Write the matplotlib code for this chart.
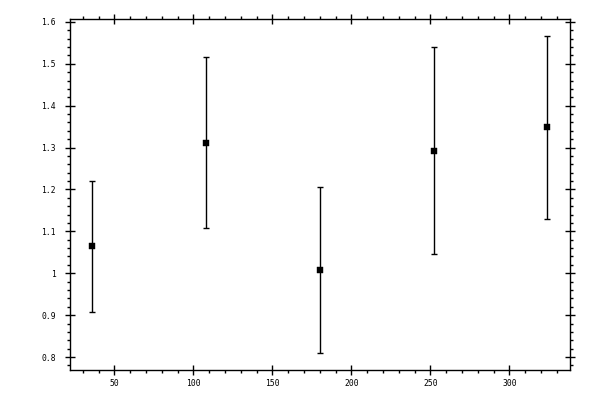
import numpy as np
import matplotlib
matplotlib.use("Agg")
import matplotlib.pyplot as plt
from matplotlib.ticker import MultipleLocator

# values
x = [36, 108, 180, 252, 324]
y = [1.064, 1.312, 1.007, 1.293, 1.348]
err = [0.157, 0.205, 0.198, 0.246, 0.219]

fig = plt.figure(figsize=(6, 4), dpi=100)
ax = fig.add_axes([0.116, 0.075, 0.834, 0.877])

ax.errorbar(x, y, yerr=err, fmt='none', ecolor='black', elinewidth=1,
            capsize=1.9, capthick=1)
ax.plot(x, y, 's', color='black', ms=4.6, mec='black', mew=0.3)

ax.set_xlim(21.6, 338.4)
ax.set_ylim(0.769, 1.6065)

ax.xaxis.set_major_locator(MultipleLocator(50))
ax.xaxis.set_minor_locator(MultipleLocator(10))
ax.yaxis.set_major_locator(MultipleLocator(0.1))
ax.yaxis.set_minor_locator(MultipleLocator(0.02))

ax.yaxis.set_major_formatter(plt.FuncFormatter(lambda v, p: '1' if abs(v - 1) < 1e-9 else '%.1f' % v))

for s in ax.spines.values():
    s.set_linewidth(1)

ax.tick_params(which='major', direction='inout', length=6.5, width=1,
               top=True, right=True, labelsize=5.8)
ax.tick_params(which='minor', direction='out', length=2.2, width=1,
               top=True, right=True)
ax.tick_params(axis='y', which='major', pad=6.5)
ax.tick_params(axis='x', which='major', pad=3.5)
for lab in ax.get_xticklabels() + ax.get_yticklabels():
    lab.set_family('DejaVu Sans Mono')

plt.savefig('out.png', dpi=100)
